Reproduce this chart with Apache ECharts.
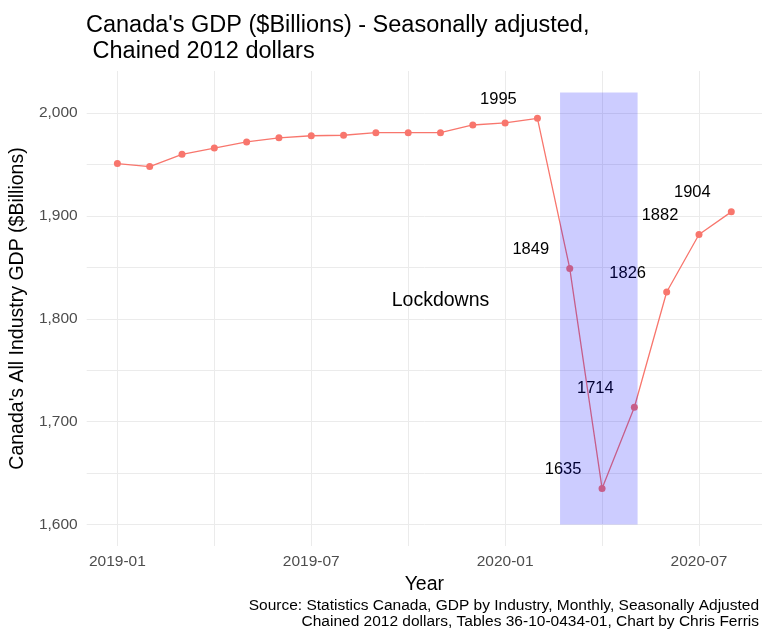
<!DOCTYPE html>
<html>
<head>
<meta charset="utf-8">
<script src="https://cdn.jsdelivr.net/npm/echarts@6/dist/echarts.min.js"></script>
<style>
  html, body { margin: 0; padding: 0; background: #fff; }
  #chart { width: 762px; height: 635px; }
</style>
</head>
<body>
<div id="chart"></div>
<script>
// monthly GDP, $Billions
const months = ['2019-01', '2019-02', '2019-03', '2019-04', '2019-05', '2019-06', '2019-07',
    '2019-08', '2019-09', '2019-10', '2019-11', '2019-12', '2020-01', '2020-02', '2020-03',
    '2020-04', '2020-05', '2020-06', '2020-07', '2020-08'];
const gdp = [1951, 1948, 1960, 1966, 1972, 1976, 1978, 1978.5, 1981, 1981, 1981, 1988.5,
    1990.5, 1995, 1849, 1635, 1714, 1826, 1882, 1904];
const labelledMonths = ['2020-02', '2020-03', '2020-04', '2020-05', '2020-06', '2020-07', '2020-08'];

// x tick labels / gridlines (month index)
const xLabelTicks = [0, 6, 12, 18];
const xGridTicks = [0, 3, 6, 9, 12, 15, 18];
const yLabelTicks = [1600, 1700, 1800, 1900, 2000];
const yGridTicks = [1600, 1650, 1700, 1750, 1800, 1850, 1900, 1950, 2000];

// lockdown shading (month index) and its y span
const lockdownX = [13.7, 16.1];
const lockdownY = [1600, 2020];
const lockdownText = { x: 10.0, y: 1818, text: 'Lockdowns' };

const captionLines = [
    'Source: Statistics Canada, GDP by Industry, Monthly, Seasonally Adjusted',
    'Chained 2012 dollars, Tables 36-10-0434-01, Chart by Chris Ferris'
];

const FONT = 'Liberation Sans, Arial, sans-serif';
const RED = '#F8766D';

const chart = echarts.init(document.getElementById('chart'));

const lineData = gdp.map((v, i) => {
    const item = { value: [i, v] };
    if (labelledMonths.includes(months[i])) item.label = { show: true };
    return item;
});

// caption, right aligned, one text per line
const caption = captionLines.map((t, i) => ({
    type: 'text',
    right: 3,
    bottom: 5 + (captionLines.length - 1 - i) * 16,
    style: { text: t, font: '15.5px ' + FONT, fill: '#000' }
}));

chart.setOption({
    backgroundColor: '#fff',
    animation: false,
    title: {
        text: "Canada's GDP ($Billions) - Seasonally adjusted,\n Chained 2012 dollars",
        left: 81,
        top: 8,
        textStyle: { fontFamily: FONT, fontSize: 23.5, fontWeight: 'normal', color: '#000', lineHeight: 26 }
    },
    graphic: caption,
    grid: { left: 86, right: 0, top: 71, bottom: 89 },
    xAxis: {
        type: 'value',
        min: -0.95,
        max: 19.95,
        name: 'Year',
        nameLocation: 'middle',
        nameGap: 25,
        nameTextStyle: { fontFamily: FONT, fontSize: 19.5, color: '#000' },
        axisLine: { show: false },
        axisTick: { show: false, customValues: xGridTicks },
        axisLabel: {
            customValues: xLabelTicks,
            formatter: v => months[Math.round(v)] || '',
            fontFamily: FONT, fontSize: 15.5, color: '#4d4d4d', margin: 8
        },
        splitLine: { show: true, lineStyle: { color: '#ebebeb', width: 1 } }
    },
    yAxis: {
        type: 'value',
        min: 1579,
        max: 2041,
        name: "Canada's All Industry GDP ($Billions)",
        nameLocation: 'middle',
        nameGap: 50,
        nameTextStyle: { fontFamily: FONT, fontSize: 19.5, color: '#000' },
        axisLine: { show: false },
        axisTick: { show: false, customValues: yGridTicks },
        axisLabel: {
            customValues: yLabelTicks,
            formatter: v => v.toLocaleString('en-US'),
            fontFamily: FONT, fontSize: 15.5, color: '#4d4d4d', margin: 9
        },
        splitLine: { show: true, lineStyle: { color: '#ebebeb', width: 1 } }
    },
    series: [{
        name: 'GDP',
        type: 'line',
        data: lineData,
        symbol: 'circle',
        symbolSize: 7,
        z: 3,
        itemStyle: { color: RED },
        lineStyle: { color: RED, width: 1.3 },
        label: {
            show: false,
            position: [-35.5, -15.5],
            align: 'center',
            verticalAlign: 'middle',
            formatter: p => Math.round(p.value[1]),
            fontFamily: FONT, fontSize: 16.5, color: '#000'
        },
        markPoint: {
            symbol: 'circle',
            symbolSize: 0,
            silent: true,
            label: {
                show: true,
                position: 'inside',
                formatter: lockdownText.text,
                fontFamily: FONT, fontSize: 19.5, color: '#000'
            },
            data: [{ coord: [lockdownText.x, lockdownText.y] }]
        }
    }, {
        name: 'Lockdowns',
        type: 'line',
        data: [],
        z: 10,
        markArea: {
            silent: true,
            z: 10,
            itemStyle: { color: 'rgba(0,0,255,0.2)' },
            data: [[{ coord: [lockdownX[0], lockdownY[0]] }, { coord: [lockdownX[1], lockdownY[1]] }]]
        }
    }]
});
</script>
</body>
</html>
